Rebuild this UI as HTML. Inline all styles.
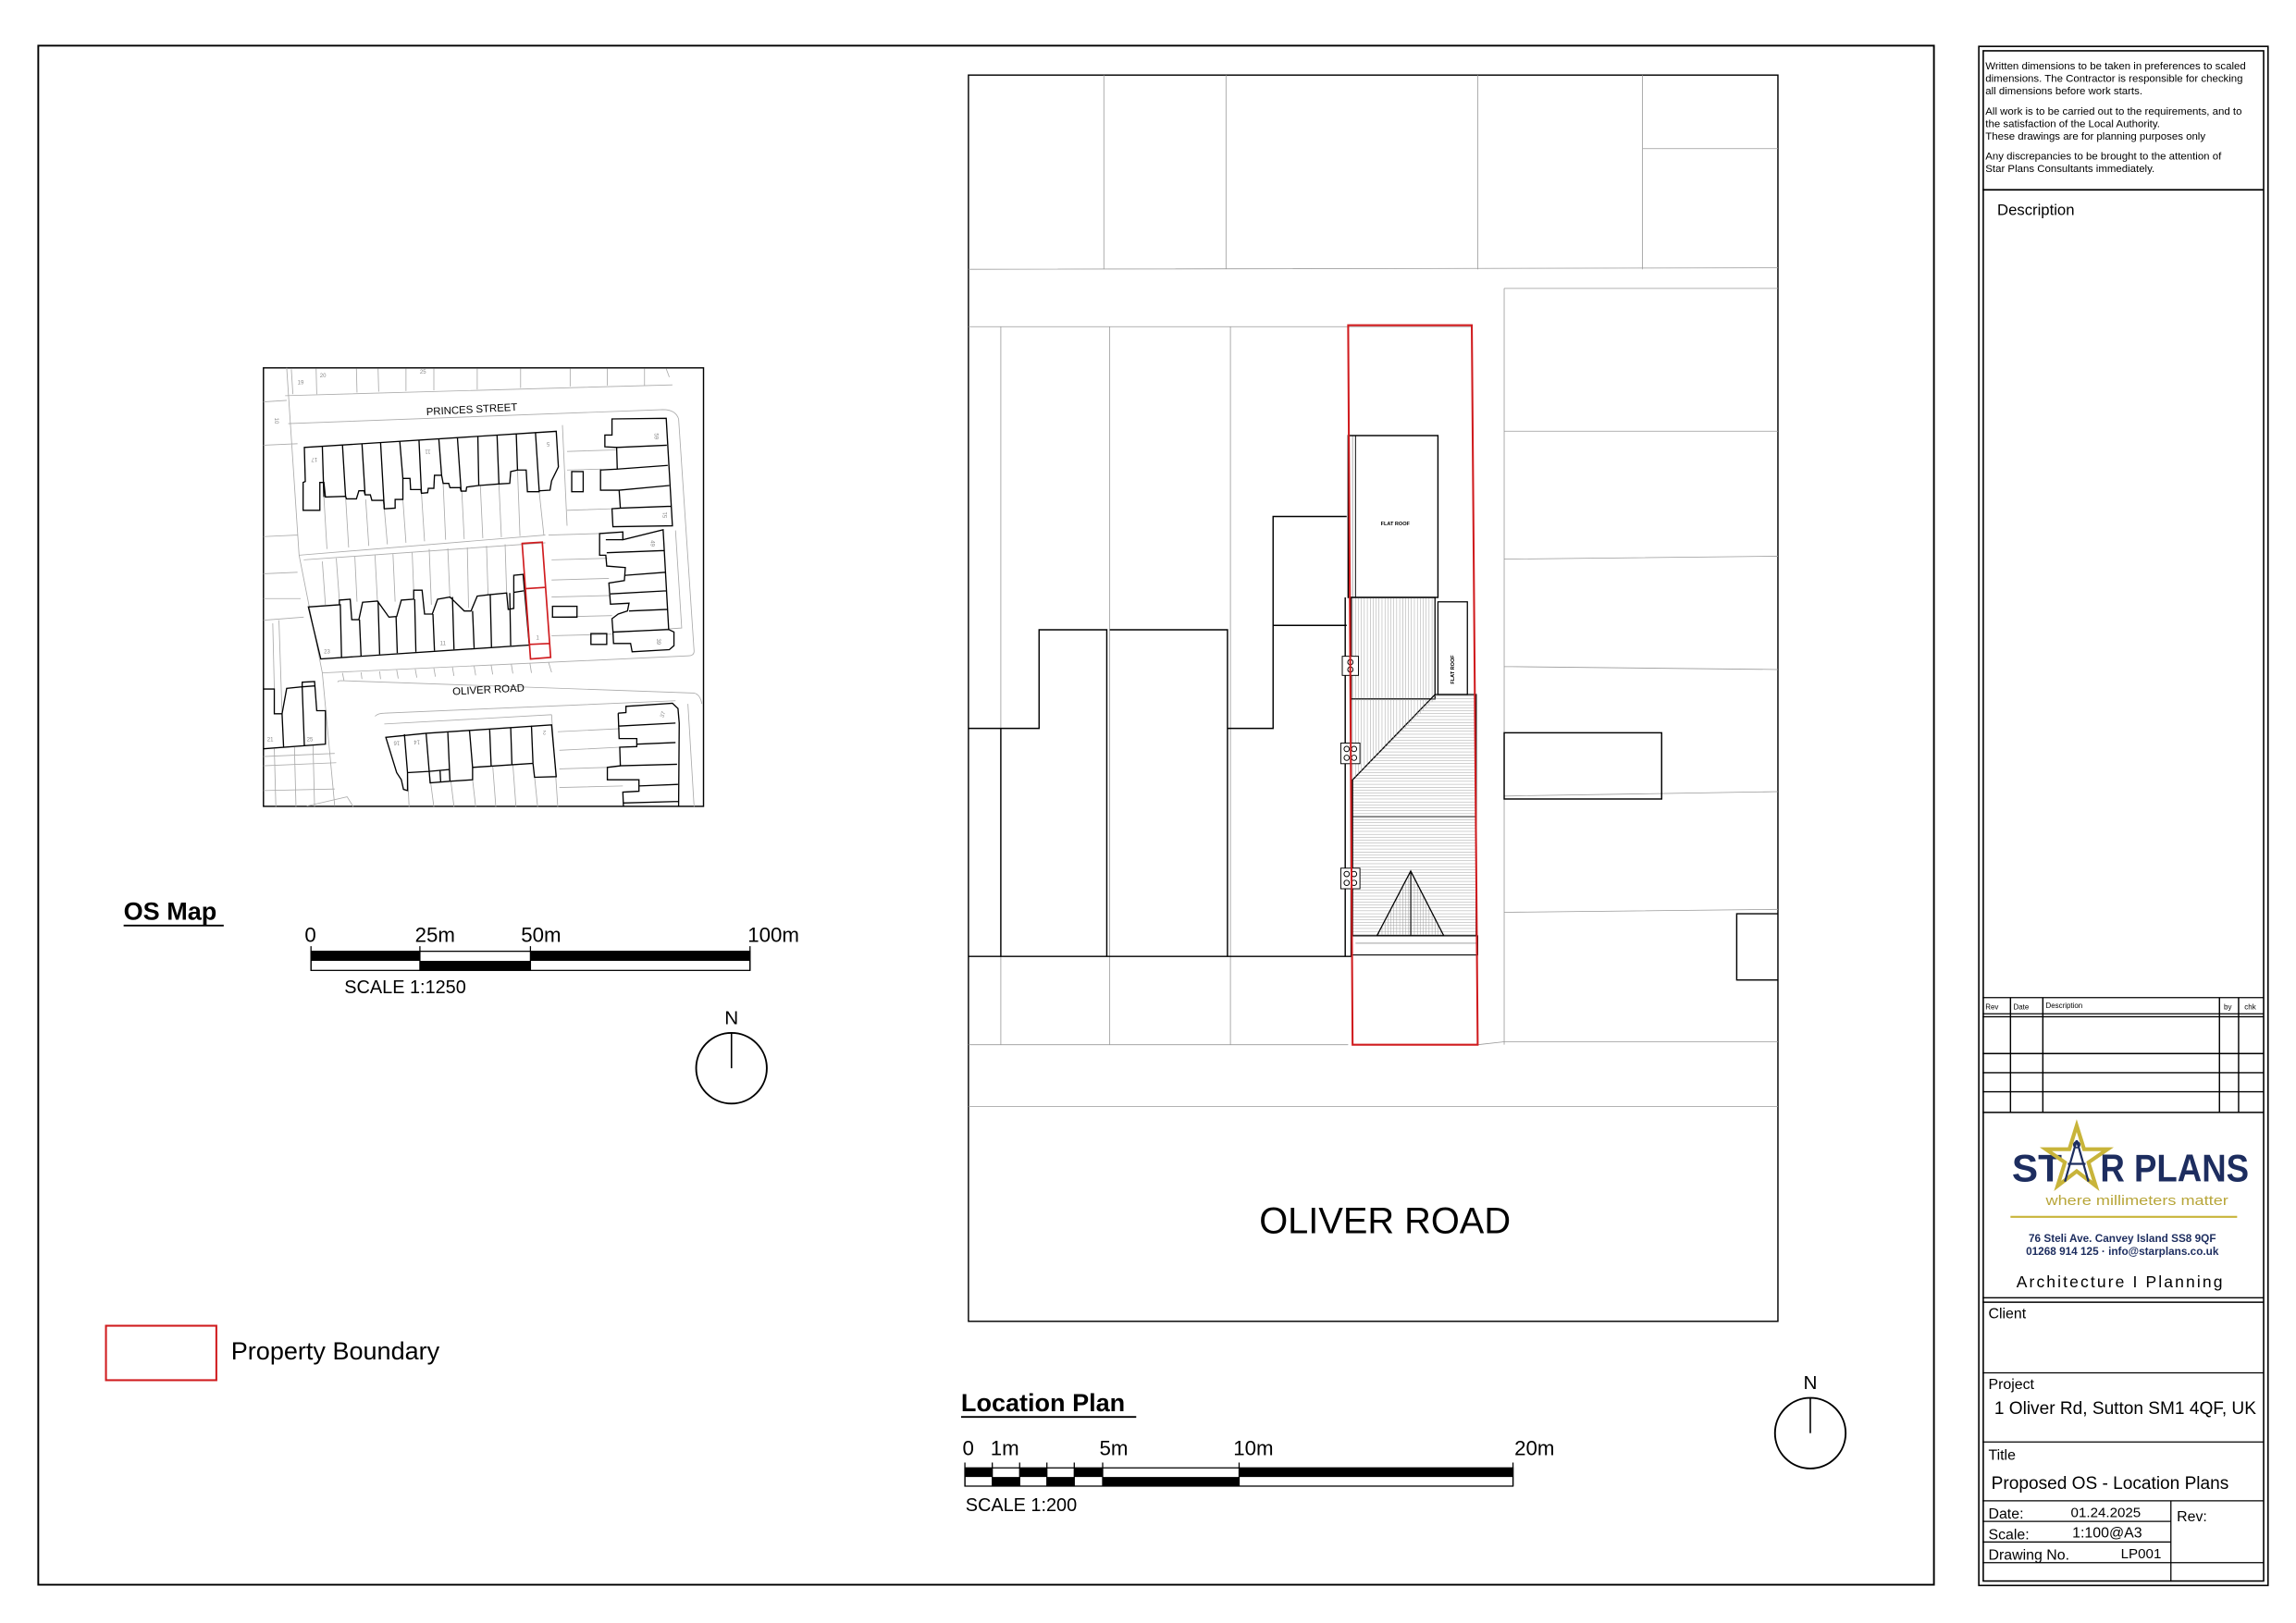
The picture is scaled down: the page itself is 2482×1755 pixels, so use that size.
<!DOCTYPE html>
<html><head><meta charset="utf-8"><style>
html,body{margin:0;padding:0;background:#fff}
svg{display:block}
text{font-family:"Liberation Sans",Arial,sans-serif}
</style></head><body>
<svg width="2482" height="1755" viewBox="0 0 1560 1103" xmlns="http://www.w3.org/2000/svg">
<defs>
<pattern id="hv" width="2" height="2" patternUnits="userSpaceOnUse"><line x1="1" y1="0" x2="1" y2="2" stroke="#999" stroke-width="0.3"/></pattern>
<pattern id="hh" width="2" height="2" patternUnits="userSpaceOnUse"><line x1="0" y1="1" x2="2" y2="1" stroke="#999" stroke-width="0.3"/></pattern>
</defs>
<rect width="1560" height="1103" fill="#fff"/>
<rect x="26" y="31" width="1288" height="1046" fill="none" stroke="#000" stroke-width="1.2"/>

<!-- ===== OS MAP ===== -->
<rect x="179" y="250" width="299" height="298" fill="none" stroke="#000" stroke-width="0.9"/>
<g transform="translate(176.9,246.8) scale(0.2105)" fill="none" stroke-linejoin="miter">
<g stroke="#aaa" stroke-width="2.5">
<path d="M80,105 L1330,70 M90,195 Q700,170 1300,150 Q1340,150 1350,180 L1400,930 Q1400,945 1380,945 L200,1000"/>
<path d="M250,1030 Q250,1025 260,1025 L1400,1065 Q1420,1070 1425,1100 M370,1140 Q380,1130 400,1130 L1340,1090"/>
<path d="M85,15 L125,620 L200,1000 L240,1430 M10,265 L120,260 M10,125 L85,120 M10,560 L120,555 M10,680 L120,675 M10,760 L130,760 M10,830 L140,820 M10,1270 L240,1260 M10,1380 L240,1375 M150,1430 L280,1400 L300,1432"/>
<path d="M100,20 L105,100 M180,18 L182,100 M310,18 L312,95 M380,18 L382,92 M470,18 L470,90 M560,18 L560,88 M700,18 L700,85 M840,18 L840,80 M1000,18 L1000,75 M1120,18 L1120,72 M1240,18 L1240,72 M1310,18 L1320,45"/>
<path d="M205,432 L215,600 M275,430 L285,595 M340,440 L350,590 M400,470 L410,585 M460,440 L470,580 M520,420 L530,575 M590,388 L598,570 M650,410 L658,568 M710,395 L718,565 M770,390 L778,562 M830,345 L838,558 M900,415 L915,555"/>
<path d="M125,620 L920,555 M140,635 L920,580 M200,640 L210,780 M245,630 L255,765 M305,625 L312,770 M370,620 L378,770 M428,615 L435,770 M490,610 L495,735 M545,600 L552,780 M605,598 L612,760 M668,595 L672,790 M730,590 L735,748 M790,585 L795,745"/>
<path d="M975,200 L990,525 M990,285 L1150,280 M990,345 L1100,342 M990,475 L1138,470 M930,555 L1095,550 M940,635 L1120,630 M940,700 L1125,695 M940,755 L1130,750 M940,820 L1135,815 M940,880 L1135,875 M1340,540 L1360,855 L1140,870"/>
<path d="M265,1000 L270,1025 M325,998 L328,1020 M385,995 L388,1020 M440,990 L445,1018 M500,988 L505,1015 M560,985 L565,1012 M620,982 L625,1010 M690,978 L695,1008 M745,975 L750,1005 M810,972 L815,1002 M870,968 L875,1000 M930,965 L940,998"/>
<path d="M400,1165 L940,1135 M475,1320 L480,1432 M545,1318 L560,1432 M615,1350 L625,1432 M685,1345 L695,1432 M750,1300 L760,1432 M815,1295 L825,1432 M885,1335 L895,1432 M940,1135 L960,1432 M960,1190 L1160,1180 M965,1250 L1160,1240 M965,1310 L1120,1305 M965,1370 L1170,1365 M1380,1100 L1400,1432"/>
<path d="M45,1245 L50,1432 M110,1240 L115,1432 M170,1235 L175,1432 M40,840 L45,1050 M70,1130 L60,830 M10,1300 L245,1290"/>
</g>
<g stroke="#000" stroke-width="4">
<path d="M142,272 L955,220 L962,335 L940,380 L935,410 L900,412 L900,415 L862,415 L858,345 L830,345 L808,350 L805,388 L770,390 L705,395 L666,400 L664,413 L648,413 L645,402 L612,402 L608,388 L590,388 L585,362 L562,362 L560,404 L542,404 L540,418 L520,420 L518,408 L485,408 L483,372 L460,372 L460,440 L435,440 L435,468 L400,470 L398,443 L360,443 L355,425 L338,425 L335,412 L318,412 L310,438 L278,438 L275,430 L210,432 L205,385 L192,385 L192,475 L138,475 L138,385 L145,382 Z"/>
<path d="M200,268 L205,432 M265,264 L275,430 M328,260 L338,425 M388,256 L400,470 M450,252 L460,372 M512,248 L520,420 M576,244 L585,362 M636,240 L648,413 M702,236 L705,395 M764,232 L770,390 M826,228 L830,345 M888,224 L900,412"/>
<path d="M155,787 L255,780 L255,765 L290,762 L295,828 L318,828 L330,772 L378,768 L415,820 L440,818 L455,765 L495,762 L495,733 L522,733 L530,810 L555,810 L572,762 L612,755 L658,800 L680,800 L700,752 L735,748 L795,742 L800,795 L818,792 L818,685 L848,682 L868,910 L195,955 Z"/>
<path d="M258,778 L262,950 M320,828 L325,945 M380,768 L385,940 M438,818 L442,936 M498,762 L502,932 M557,810 L562,928 M620,755 L625,924 M685,800 L690,920 M742,748 L746,916 M805,742 L808,912 M818,740 L850,735"/>
<path d="M1135,180 L1310,178 L1330,525 L1138,528 L1135,470 L1162,468 L1158,410 L1098,410 L1098,345 L1152,342 L1150,272 L1112,270 L1112,232 L1135,232 Z M1150,272 L1312,265 M1152,342 L1315,330 M1158,410 L1320,395 M1162,468 L1325,462"/>
<rect x="1005" y="350" width="37" height="65"/>
<path d="M1095,550 L1170,545 L1170,570 L1300,538 L1318,860 L1335,868 L1335,912 L1320,925 L1200,932 L1195,905 L1140,905 L1138,865 L1135,825 L1155,810 L1185,800 L1190,775 L1130,778 L1125,710 L1175,702 L1178,660 L1118,655 L1115,620 L1095,620 Z M1115,570 L1170,570 M1118,612 L1305,605 M1178,685 L1308,675 M1130,745 L1310,735 M1190,800 L1315,795 M1138,868 L1318,860"/>
<rect x="943" y="785" width="79" height="35"/>
<rect x="1067" y="873" width="51" height="35"/>
<path d="M10,1052 L45,1052 L45,1132 L70,1132 L85,1050 L135,1045 L135,1030 L175,1028 L182,1122 L210,1122 L210,1230 L10,1245 M70,1132 L75,1240 M135,1045 L142,1235 M135,1045 L175,1042"/>
<path d="M405,1208 L535,1195 L940,1168 L955,1335 L885,1337 L880,1292 L685,1305 L685,1345 L612,1350 L610,1312 L545,1318 L475,1322 L475,1380 L462,1376 L455,1345 L440,1322 Z M465,1198 L475,1322 M535,1195 L545,1318 M605,1190 L612,1350 M675,1185 L685,1305 M740,1180 L745,1302 M808,1175 L812,1296 M875,1170 L880,1292 M545,1318 L548,1355 L612,1350 M580,1315 L582,1352"/>
<path d="M1155,1130 L1180,1128 L1180,1108 L1330,1098 L1348,1115 L1352,1162 L1350,1432 M1172,1432 L1170,1385 L1222,1382 L1222,1345 L1120,1345 L1120,1305 L1162,1300 L1160,1240 L1215,1238 L1215,1212 L1158,1212 L1155,1130 M1155,1172 L1340,1162 M1215,1230 L1340,1225 M1160,1300 L1345,1295 M1222,1365 L1348,1360 M1170,1420 L1350,1415"/>
</g>
<path d="M845,582 L910,578 L937,950 L872,955 Z M855,728 L918,724 M868,908 L935,905" stroke="#d01c1f" stroke-width="5"/>
<g fill="#888" stroke="none" font-size="18">
<text x="120" y="68">19</text><text x="192" y="46">20</text><text x="515" y="33">25</text>
<text x="160" y="318" transform="rotate(180 172 312)">17</text>
<text x="530" y="296" transform="rotate(180 540 288)">11</text>
<text x="918" y="266" transform="rotate(180 926 260)">5</text>
<text x="205" y="937">23</text><text x="580" y="910">11</text><text x="890" y="892">1</text>
<text x="22" y="1220">21</text><text x="150" y="1220">25</text>
<text x="1270" y="240" transform="rotate(90 1278 234)">59</text>
<text x="1298" y="498" transform="rotate(-90 1306 492)">51</text>
<text x="1258" y="586" transform="rotate(90 1266 580)">49</text>
<text x="1278" y="903" transform="rotate(90 1286 897)">39</text>
<text x="1290" y="1142" transform="rotate(-70 1298 1136)">37</text>
<text x="430" y="1232" transform="rotate(180 440 1226)">16</text>
<text x="495" y="1230" transform="rotate(180 505 1224)">14</text>
<text x="910" y="1198" transform="rotate(180 916 1192)">2</text>
<text x="45" y="190" transform="rotate(90 53 184)">10</text>
</g>
<g fill="#000" stroke="none" font-size="34">
<text x="535" y="160" transform="rotate(-3 690 145)">PRINCES STREET</text>
<text x="620" y="1065" transform="rotate(-3 740 1050)">OLIVER ROAD</text>
</g>
</g>

<text x="84" y="625" font-size="17" font-weight="bold">OS Map</text>
<line x1="84" y1="629" x2="152" y2="629" stroke="#000" stroke-width="1.2"/>
<g font-size="14">
<text x="207" y="640">0</text><text x="282" y="640">25m</text><text x="354" y="640">50m</text><text x="508" y="640">100m</text>
</g>
<rect x="211.3" y="646.5" width="298.3" height="13" fill="#fff" stroke="#000" stroke-width="0.8"/>
<rect x="211.3" y="646.5" width="74" height="6.5"/>
<rect x="285.3" y="653" width="75.1" height="6.5"/>
<rect x="360.4" y="646.5" width="149.2" height="6.5"/>
<path d="M211.3,643 V659.5 M285.3,643 V659.5 M360.4,643 V659.5 M509.6,643 V659.5" stroke="#000" stroke-width="0.8"/>
<text x="234" y="675" font-size="12.5">SCALE 1:1250</text>

<text x="497" y="696" font-size="13" text-anchor="middle">N</text>
<circle cx="497" cy="726" r="24" fill="none" stroke="#000" stroke-width="1.2"/>
<line x1="497" y1="702" x2="497" y2="726" stroke="#000" stroke-width="1"/>

<rect x="72" y="901" width="75" height="37" fill="none" stroke="#d01c1f" stroke-width="1.3"/>
<text x="157" y="924" font-size="17">Property Boundary</text>

<!-- ===== LOCATION PLAN ===== -->
<rect x="658" y="51" width="550" height="847" fill="none" stroke="#000" stroke-width="0.9"/>
<g stroke="#999" stroke-width="0.5" fill="none">
<path d="M750,51 V183 M833,51 V183 M1004,51 V183 M1116,51 V183 M1116,101 H1208 M658,183 L1208,182"/>
<path d="M658,222 H1000 M1022,196 H1208 M1022,196 V710 M1022,293 H1208 M1022,380 L1208,378 M1022,453 L1208,455 M1022,541 L1208,538 M1022,620 L1208,618"/>
<path d="M680,222 V710 M754,222 V710 M836,222 V710 M658,710 H916 M1004,710 L1022,708 H1208 M658,752 H1208"/>
<path d="M919,296 V406"/>
</g>
<g stroke="#000" stroke-width="0.9" fill="none">
<path d="M658,495 H706 V428 H752 V650 M680,495 V650 M754,428 H834 V650 M834,495 H865 V351 H915 M865,425 H915 M658,650 H918"/>
<rect x="916" y="296" width="61" height="110"/>
<line x1="921" y1="296" x2="921" y2="406" stroke-width="0.6"/>
<path d="M914,406 V650 M918,406 V650"/>
</g>
<rect x="918" y="406" width="57" height="69" fill="url(#hv)" stroke="#000" stroke-width="0.8"/>
<rect x="977" y="409" width="20" height="63" fill="#fff" stroke="#000" stroke-width="0.8"/>
<polygon points="975,472 1003,472 1003,636 919,636 919,530" fill="url(#hh)" stroke="#000" stroke-width="0.8"/>
<polygon points="919,475 975,475 919,530" fill="url(#hv)" stroke="none"/>
<line x1="919" y1="555" x2="1003" y2="555" stroke="#000" stroke-width="0.6"/>
<polygon points="958.5,592 981,636 935.5,636" fill="url(#hv)" stroke="#000" stroke-width="0.8"/>
<line x1="958.5" y1="592" x2="958.5" y2="636" stroke="#000" stroke-width="0.6"/>
<rect x="918" y="636" width="86" height="13" fill="#fff" stroke="#000" stroke-width="0.7"/>
<line x1="921" y1="641" x2="1004" y2="641" stroke="#666" stroke-width="0.4"/>
<g fill="#fff" stroke="#000" stroke-width="0.6">
<rect x="912" y="446" width="11" height="13"/><circle cx="917.5" cy="450" r="1.8"/><circle cx="917.5" cy="455" r="1.8"/>
<rect x="911" y="505" width="13" height="14"/><circle cx="915" cy="509" r="1.8"/><circle cx="920" cy="509" r="1.8"/><circle cx="915" cy="515" r="1.8"/><circle cx="920" cy="515" r="1.8"/>
<rect x="911" y="590" width="13" height="14"/><circle cx="915" cy="594" r="1.8"/><circle cx="920" cy="594" r="1.8"/><circle cx="915" cy="600" r="1.8"/><circle cx="920" cy="600" r="1.8"/>
</g>
<rect x="1022" y="498" width="107" height="45" fill="none" stroke="#000" stroke-width="0.9"/>
<path d="M1208,621 H1180 V666 H1208" fill="none" stroke="#000" stroke-width="0.9"/>
<path d="M916,221 L1000,221 L1004,710 L919,710 Z" fill="none" stroke="#d01c1f" stroke-width="1.3"/>
<text x="948" y="357" font-size="3.5" text-anchor="middle" font-weight="bold">FLAT ROOF</text>
<text x="987" y="456" font-size="3.5" text-anchor="middle" font-weight="bold" transform="rotate(-90 987 455)">FLAT ROOF</text>
<text x="941" y="838" font-size="25" text-anchor="middle">OLIVER ROAD</text>

<text x="653" y="959" font-size="17" font-weight="bold">Location Plan</text>
<line x1="653" y1="963" x2="772" y2="963" stroke="#000" stroke-width="1.2"/>
<g font-size="14">
<text x="654" y="989">0</text><text x="673" y="989">1m</text><text x="747" y="989">5m</text><text x="838" y="989">10m</text><text x="1029" y="989">20m</text>
</g>
<rect x="655.6" y="997.6" width="372.4" height="12.4" fill="#fff" stroke="#000" stroke-width="0.8"/>
<g fill="#000">
<rect x="655.6" y="997.6" width="18.6" height="6.2"/>
<rect x="674.2" y="1003.8" width="18.6" height="6.2"/>
<rect x="692.8" y="997.6" width="18.5" height="6.2"/>
<rect x="711.3" y="1003.8" width="18.6" height="6.2"/>
<rect x="729.9" y="997.6" width="19.3" height="6.2"/>
<rect x="749.2" y="1003.8" width="92.7" height="6.2"/>
<rect x="841.9" y="997.6" width="186.1" height="6.2"/>
</g>
<path d="M655.6,994 V1010 M674.2,994 V1010 M692.8,994 V1010 M711.3,994 V1010 M729.9,994 V1010 M749.2,994 V1010 M841.9,994 V1010 M1028,994 V1010" stroke="#000" stroke-width="0.8"/>
<text x="656" y="1027" font-size="12.5">SCALE 1:200</text>

<text x="1230" y="944" font-size="13" text-anchor="middle">N</text>
<circle cx="1230" cy="974" r="24" fill="none" stroke="#000" stroke-width="1.2"/>
<line x1="1230" y1="950" x2="1230" y2="974" stroke="#000" stroke-width="1"/>

<!-- ===== TITLE BLOCK ===== -->
<rect x="1344.5" y="31.5" width="196.5" height="1046" fill="none" stroke="#000" stroke-width="1"/>
<rect x="1347.5" y="34.5" width="190.5" height="1040" fill="none" stroke="#000" stroke-width="1"/>
<g font-size="7.2">
<text x="1349" y="47">Written dimensions to be taken in preferences to scaled</text>
<text x="1349" y="55.5">dimensions.  The Contractor is responsible for checking</text>
<text x="1349" y="64">all dimensions before work starts.</text>
<text x="1349" y="78">All work is to be carried out to the requirements, and to</text>
<text x="1349" y="86.5"> the satisfaction of the Local Authority.</text>
<text x="1349" y="95">These drawings are for planning purposes only</text>
<text x="1349" y="108.5">Any discrepancies to be brought to the attention of</text>
<text x="1349" y="117">Star Plans Consultants immediately.</text>
</g>
<line x1="1347" y1="129" x2="1538" y2="129" stroke="#000" stroke-width="1.1"/>
<text x="1357" y="146" font-size="10.5">Description</text>
<g stroke="#000" fill="none">
<path d="M1347,678 H1538" stroke-width="0.8"/>
<path d="M1347,689 H1538 M1347,691 H1538" stroke-width="0.8"/>
<path d="M1347,716 H1538 M1347,729 H1538 M1347,742 H1538 M1347,756 H1538" stroke-width="0.9"/>
<path d="M1366,678 V756 M1388,678 V756 M1508,678 V756 M1521,678 V756" stroke-width="0.9"/>
<path d="M1347,882 H1538 M1347,885 H1538" stroke-width="0.9"/>
<path d="M1347,933 H1538 M1347,980 H1538 M1347,1020 H1538" stroke-width="0.8"/>
<path d="M1347,1034 H1475 M1347,1048 H1475 M1347,1062 H1538 M1475,1020 V1075" stroke-width="0.8"/>
</g>
<g font-size="5">
<text x="1349" y="686">Rev</text><text x="1368" y="686">Date</text><text x="1390" y="685">Description</text><text x="1511" y="686">by</text><text x="1525" y="686">chk</text>
</g>
<text x="1367" y="803" font-size="26" font-weight="bold" fill="#1d2d5f" textLength="34" lengthAdjust="spacingAndGlyphs">ST</text>
<polygon points="1411,765 1416,781 1432,781 1419,790 1424,806 1411,796 1398,806 1403,790 1390,781 1406,781" fill="none" stroke="#c8b43a" stroke-width="2.6"/>
<path d="M1411,775 L1403,803 M1411,775 L1419,803 M1405,791 H1417" stroke="#1d2d5f" stroke-width="1.4" fill="none"/>
<circle cx="1411" cy="778" r="2" fill="none" stroke="#1d2d5f" stroke-width="1"/>
<text x="1427" y="803" font-size="26" font-weight="bold" fill="#1d2d5f" textLength="101" lengthAdjust="spacingAndGlyphs">R PLANS</text>
<text x="1390" y="819" font-size="9.5" fill="#b8a63a" textLength="124" lengthAdjust="spacingAndGlyphs">where millimeters matter</text>
<line x1="1366" y1="827" x2="1520" y2="827" stroke="#c8b43a" stroke-width="1.3"/>
<text x="1442" y="844" font-size="7.4" fill="#1d2d5f" font-weight="bold" text-anchor="middle">76 Steli Ave. Canvey Island SS8 9QF</text>
<text x="1442" y="853" font-size="7.4" fill="#1d2d5f" font-weight="bold" text-anchor="middle">01268 914 125 · info@starplans.co.uk</text>
<text x="1370" y="875" font-size="11" textLength="140" lengthAdjust="spacing">Architecture   I    Planning</text>
<text x="1351" y="896" font-size="10">Client</text>
<text x="1351" y="944" font-size="10">Project</text>
<text x="1355" y="961" font-size="12">1 Oliver Rd, Sutton SM1 4QF, UK</text>
<text x="1351" y="992" font-size="10">Title</text>
<text x="1353" y="1012" font-size="12">Proposed OS - Location Plans</text>
<g font-size="10">
<text x="1351" y="1032">Date:</text><text x="1407" y="1031" font-size="9.5">01.24.2025</text>
<text x="1351" y="1046">Scale:</text><text x="1408" y="1045">1:100@A3</text>
<text x="1351" y="1060">Drawing No.</text><text x="1441" y="1059" font-size="9.5">LP001</text>
<text x="1479" y="1034">Rev:</text>
</g>
</svg>
</body></html>
